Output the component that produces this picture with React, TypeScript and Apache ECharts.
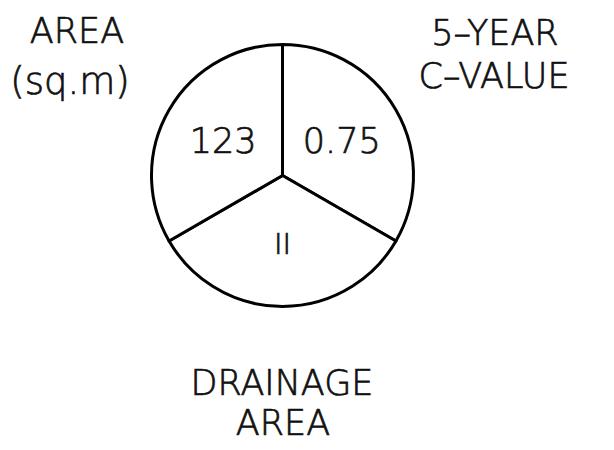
import React, { useEffect, useRef } from "react";
import * as echarts from "echarts";

// Slices (equal thirds), clockwise from 12 o'clock
const sliceLabels = ["0.75", "II", "123"];
const sliceShares = [1, 1, 1];
const sliceFontSizes = [35, 29, 35];

// Outer captions
const captionTopLeft = ["AREA", "(sq.m)"];
const captionTopRight = ["5–YEAR", "C–VALUE"];
const captionBottom = ["DRAINAGE", "AREA"];

const FONT = "'DejaVu Sans', sans-serif";
const INK = "#111";

export default function App() {
  const ref = useRef<HTMLDivElement>(null);

  useEffect(() => {
    if (!ref.current) return;
    const chart = echarts.init(ref.current, undefined, { renderer: "svg" });

    const txt = (text: string, x: number, y: number, size = 35) => ({
      type: "text",
      x,
      y,
      style: {
        text,
        fill: INK,
        stroke: INK,
        lineWidth: 0.7,
        font: `200 ${size}px ${FONT}`,
        align: "center",
        verticalAlign: "middle",
      },
    });

    chart.setOption({
      animation: false,
      backgroundColor: "#fff",
      graphic: [
        txt(captionTopLeft[0], 77, 31),
        txt(captionTopLeft[1], 70, 81, 37),
        txt(captionTopRight[0], 495, 33),
        txt(captionTopRight[1], 494, 76),
        txt(captionBottom[0], 282, 383),
        txt(captionBottom[1], 283, 423),
      ],
      series: [
        {
          type: "pie",
          center: [282.5, 175.5],
          radius: [0, 131],
          startAngle: 90,
          clockwise: true,
          silent: true,
          emphasis: { disabled: true },
          itemStyle: { color: "#fff", borderColor: "#000", borderWidth: 3 },
          label: {
            show: true,
            position: "inside",
            formatter: "{b}",
            color: INK,
            fontFamily: FONT,
            fontWeight: 200,
            textBorderColor: INK,
            textBorderWidth: 0.7,
          },
          labelLine: { show: false },
          data: sliceLabels.map((name, i) => ({
            name,
            value: sliceShares[i],
            label: { fontSize: sliceFontSizes[i], color: INK },
          })),
        },
      ],
    });

    return () => chart.dispose();
  }, []);

  return (
    <div
      ref={ref}
      style={{ position: "fixed", left: 0, top: 0, width: 614, height: 450, background: "#fff" }}
    />
  );
}
